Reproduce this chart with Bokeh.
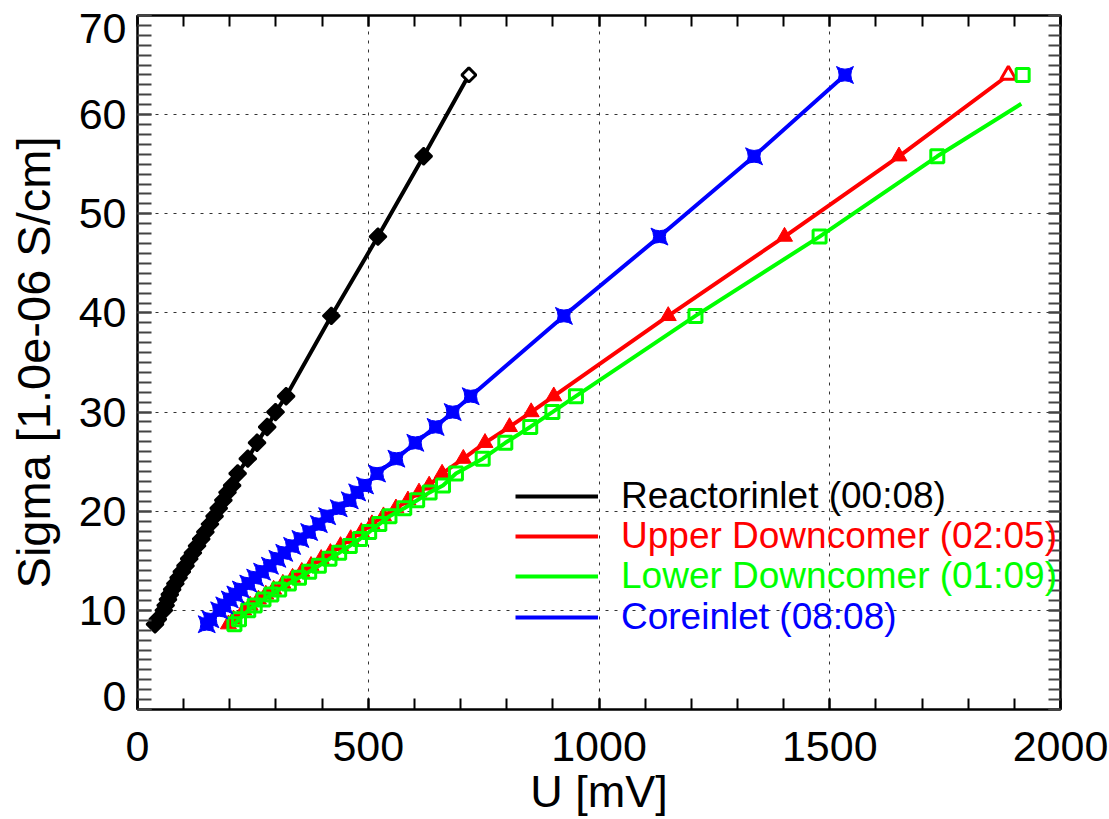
import numpy as np
from bokeh.plotting import figure
from bokeh.models import (Range1d, LinearAxis, SingleIntervalTicker, FixedTicker, Legend,
                          LegendItem, CustomJSTickFormatter)
from bokeh.embed import file_html
from bokeh.resources import INLINE

# ---- data ----
sigma = [8.6, 9.1, 10.0, 10.5, 11.1, 11.6, 12.1, 12.7, 13.3, 13.9, 14.5, 15.2, 15.8, 16.5,
         17.2, 17.9, 18.7, 19.5, 20.3, 21.1, 21.9, 22.6, 23.8, 25.3, 26.9, 28.5, 30.0, 31.6,
         39.7, 47.7, 55.8, 64.0]
u_reactor = [38, 44, 57, 61, 66, 70, 75, 82, 89, 96, 104, 112, 120, 129, 138, 147, 157, 167,
             176, 186, 195, 205, 217, 239, 259, 281, 299, 322, 420, 521, 620, 718]
u_upper = [197, 208, 230, 244, 262, 278, 295, 315, 336, 356, 376, 398, 418, 440, 462, 485, 508,
           533, 560, 586, 610, 632, 660, 706, 753, 806, 853, 902, 1150, 1402, 1650, 1887]
u_lower = [210, 220, 240, 254, 273, 290, 307, 328, 350, 372, 393, 416, 437, 460, 482, 502, 524,
           546, 578, 606, 633, 662, 690, 748, 797, 851, 899, 950, 1209, 1478, 1733, 1918]
u_core = [150, 158, 177, 188, 200, 212, 224, 240, 255, 270, 287, 303, 318, 335, 353, 372, 393,
          411, 436, 460, 476, 493, 519, 561, 602, 646, 683, 722, 924, 1131, 1336, 1533]
# the green curve's line ends at this point (not at its last marker)
lower_line_end_u = 1915
lower_line_end_sigma = 61.1

labels = ["Reactorinlet (00:08)", "Upper Downcomer (02:05)",
          "Lower Downcomer (01:09)", "Coreinlet (08:08)"]
colors = ["#000000", "#FF0000", "#00FF00", "#0000FF"]

x_min, x_max = 0, 2000
y_min, y_max = 0, 70
y_tick_labels = [0, 10, 20, 30, 40, 50, 60, 70]
# the end labels sit a little inside the frame (in y units), as in the reference
end_label_nudge = 1.35

FONT = "Liberation Sans"

p = figure(width=1109, height=819, output_backend="svg", toolbar_location=None,
           x_range=Range1d(x_min, x_max), y_range=Range1d(y_min, y_max),
           min_border_left=137, min_border_right=49, min_border_top=15, min_border_bottom=108,
           y_axis_location=None)
p.background_fill_color = "white"
p.border_fill_color = "white"
p.outline_line_color = "black"
p.outline_line_width = 2

xt = SingleIntervalTicker(interval=500, num_minor_ticks=5)
yt = SingleIntervalTicker(interval=10, num_minor_ticks=10)
label_positions = ([y_tick_labels[0] + end_label_nudge] + y_tick_labels[1:-1]
                   + [y_tick_labels[-1] - end_label_nudge])
yt_lab = FixedTicker(ticks=label_positions, minor_ticks=[])

p.xaxis[0].ticker = xt
p.xgrid.ticker = xt
p.ygrid.ticker = yt
for g in (p.xgrid[0], p.ygrid[0]):
    g.grid_line_color = "#333333"
    g.grid_line_width = 1
    g.grid_line_dash = "3 6"


def style_axis(ax, tick_len, tick_color="black"):
    ax.major_tick_in = tick_len
    ax.major_tick_out = 0
    ax.minor_tick_in = tick_len
    ax.minor_tick_out = 0
    ax.major_tick_line_color = tick_color
    ax.minor_tick_line_color = tick_color
    ax.major_tick_line_width = 2
    ax.minor_tick_line_width = 2
    ax.axis_line_color = "black"
    ax.axis_line_width = 2
    ax.major_label_text_font = FONT
    ax.major_label_text_font_size = "43px"
    ax.major_label_text_color = "black"
    ax.axis_label_text_font = FONT
    ax.axis_label_text_font_size = "45px"
    ax.axis_label_text_font_style = "normal"
    ax.axis_label_text_color = "black"


def hide_labels(ax):
    ax.major_label_text_font_size = "1px"
    ax.major_label_text_color = None
    ax.major_label_standoff = 0


xa = p.xaxis[0]
style_axis(xa, 11)
xa.axis_label = "U [mV]"
xa.major_label_standoff = 22
xa.axis_label_standoff = 2

# left: tick-only axis on the frame edge, then a label-only axis
y_ticks_axis = LinearAxis(ticker=yt)
style_axis(y_ticks_axis, 14, "#444444")
hide_labels(y_ticks_axis)
p.add_layout(y_ticks_axis, "left")

y_label_axis = LinearAxis(ticker=yt_lab,
                          formatter=CustomJSTickFormatter(
                              args=dict(lo=y_min, hi=y_max, nudge=end_label_nudge),
                              code="""
                              if (tick <= lo + nudge + 1e-6) return String(lo);
                              if (tick >= hi - nudge - 1e-6) return String(hi);
                              return String(Math.round(tick));
                              """))
style_axis(y_label_axis, 0)
y_label_axis.axis_line_color = None
y_label_axis.major_tick_line_color = None
y_label_axis.minor_tick_line_color = None
y_label_axis.axis_label = "Sigma [1.0e-06 S/cm]"
y_label_axis.axis_label_text_font_size = "47px"
y_label_axis.major_label_standoff = 11
y_label_axis.axis_label_standoff = 16
p.add_layout(y_label_axis, "left")

top = LinearAxis(ticker=xt)
style_axis(top, 11)
hide_labels(top)
p.add_layout(top, "above")

right = LinearAxis(ticker=yt)
style_axis(right, 12, "#444444")
hide_labels(right)
p.add_layout(right, "right")

n = len(sigma)
LW = 4

# Reactorinlet (black)
r_black = p.line(u_reactor, sigma, line_color=colors[0], line_width=LW)
p.scatter(u_reactor[:n - 1], sigma[:n - 1], marker="square", angle=np.pi / 4, size=12,
          fill_color=colors[0], line_color=colors[0], line_width=2)
p.scatter(u_reactor[n - 1:], sigma[n - 1:], marker="square", angle=np.pi / 4, size=10,
          fill_color="white", line_color=colors[0], line_width=3)

# Upper Downcomer (red)
r_red = p.line(u_upper, sigma, line_color=colors[1], line_width=LW)
p.scatter(u_upper[:n - 1], sigma[:n - 1], marker="triangle", size=16,
          fill_color=colors[1], line_color=colors[1], line_width=1)
p.scatter(u_upper[n - 1:], sigma[n - 1:], marker="triangle", size=15,
          fill_color="white", line_color=colors[1], line_width=3)

# Lower Downcomer (green)
r_green = p.line(u_lower[:n - 1] + [lower_line_end_u], sigma[:n - 1] + [lower_line_end_sigma],
                 line_color=colors[2], line_width=LW)
p.scatter(u_lower, sigma, marker="square", size=13, fill_color=None,
          line_color=colors[2], line_width=3)

# Coreinlet (blue)
r_blue = p.line(u_core, sigma, line_color=colors[3], line_width=LW)
p.scatter(u_core, sigma, marker="square_pin", size=17, fill_color=colors[3],
          line_color=colors[3], line_width=1)

# legends (one per row so each label can have its own colour)
rows_from_bottom = [192, 152, 112, 71]
for rend, lab, col, yb in zip([r_black, r_red, r_green, r_blue], labels, colors, rows_from_bottom):
    leg = Legend(items=[LegendItem(label=lab, renderers=[rend])], location=(378, yb),
                 glyph_width=83, glyph_height=40, label_height=40, label_standoff=23,
                 label_text_font=FONT, label_text_font_size="37px", label_text_color=col,
                 background_fill_alpha=0, border_line_alpha=0, padding=0, margin=0, spacing=0)
    p.add_layout(leg)

open("out.html", "w").write(file_html(p, INLINE))
